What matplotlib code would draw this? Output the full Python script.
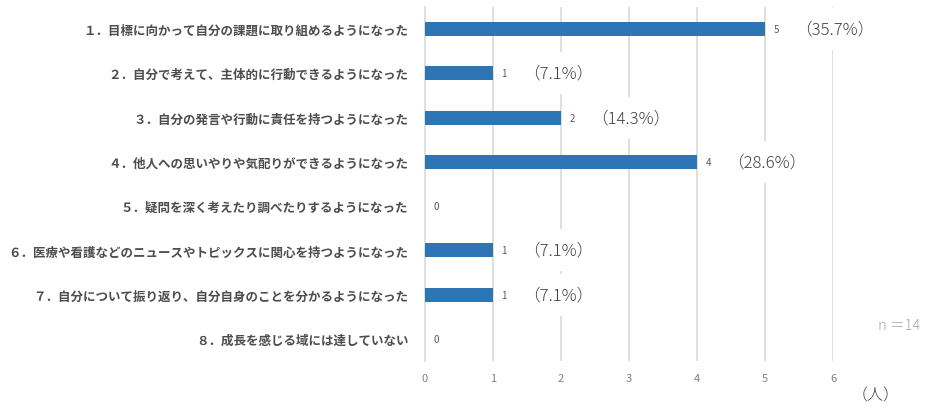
import matplotlib
matplotlib.use('Agg')
import matplotlib.pyplot as plt
import numpy as np

plt.rcParams['font.family'] = ['Noto Sans CJK JP', 'DejaVu Sans']

# data
categories = [
    '１．目標に向かって自分の課題に取り組めるようになった',
    '２．自分で考えて、主体的に行動できるようになった',
    '３．自分の発言や行動に責任を持つようになった',
    '４．他人への思いやりや気配りができるようになった',
    '５．疑問を深く考えたり調べたりするようになった',
    '６．医療や看護などのニュースやトピックスに関心を持つようになった',
    '７．自分について振り返り、自分自身のことを分かるようになった',
    '８．成長を感じる域には達していない',
]
counts = [5, 1, 2, 4, 0, 1, 1, 0]
percents = ['（35.7%）', '（7.1%）', '（14.3%）', '（28.6%）', None, '（7.1%）', '（7.1%）', None]
x_ticks = [0, 1, 2, 3, 4, 5, 6]
n_total = 14

fig = plt.figure(figsize=(9.42, 4.10), dpi=100)
ax = fig.add_axes([0.4512, 0.1171, 0.4331, 0.8634])

y = np.arange(len(categories))
ax.barh(y, counts, height=0.32, color='#2E75B6', zorder=3)

ax.set_xlim(0, 6)
ax.set_ylim(len(categories) - 0.5, -0.5)
ax.set_xticks(x_ticks)
ax.set_xticklabels([str(t) for t in x_ticks], fontsize=8, color='#808080')
ax.set_yticks(y)
ax.set_yticklabels(categories, fontsize=9, color='#4D4D4D', fontweight='bold')
ax.tick_params(axis='both', length=0)
ax.tick_params(axis='x', pad=9)
ax.tick_params(axis='y', pad=12)

for s in ['top', 'right', 'bottom']:
    ax.spines[s].set_visible(False)
ax.spines['left'].set_color('#D9D9D9')
ax.spines['left'].set_linewidth(1.2)

for t in x_ticks[1:]:
    ax.axvline(t, color='#D9D9D9', linewidth=1.2, zorder=1)

for i, (c, p) in enumerate(zip(counts, percents)):
    ax.annotate(str(c), (c, i), xytext=(6, 0), textcoords='offset points',
                va='center', ha='left', fontsize=7, color='#595959', zorder=4)
    if p is not None:
        ax.annotate(p, (c, i), xytext=(22, 0), textcoords='offset points',
                    va='center', ha='left', fontsize=12, color='#404040',
                    fontweight='light', zorder=5,
                    bbox=dict(boxstyle='square,pad=0.75', fc='white', ec='none'))

fig.text(0.955, 0.205, f'n ＝{n_total}', fontsize=10.5, color='#A6A6A6',
         ha='center', va='center', fontweight='light')
fig.text(0.93, 0.035, '（人）', fontsize=11.5, color='#404040',
         ha='center', va='center', fontweight='light')

fig.savefig('out.png', dpi=100)
